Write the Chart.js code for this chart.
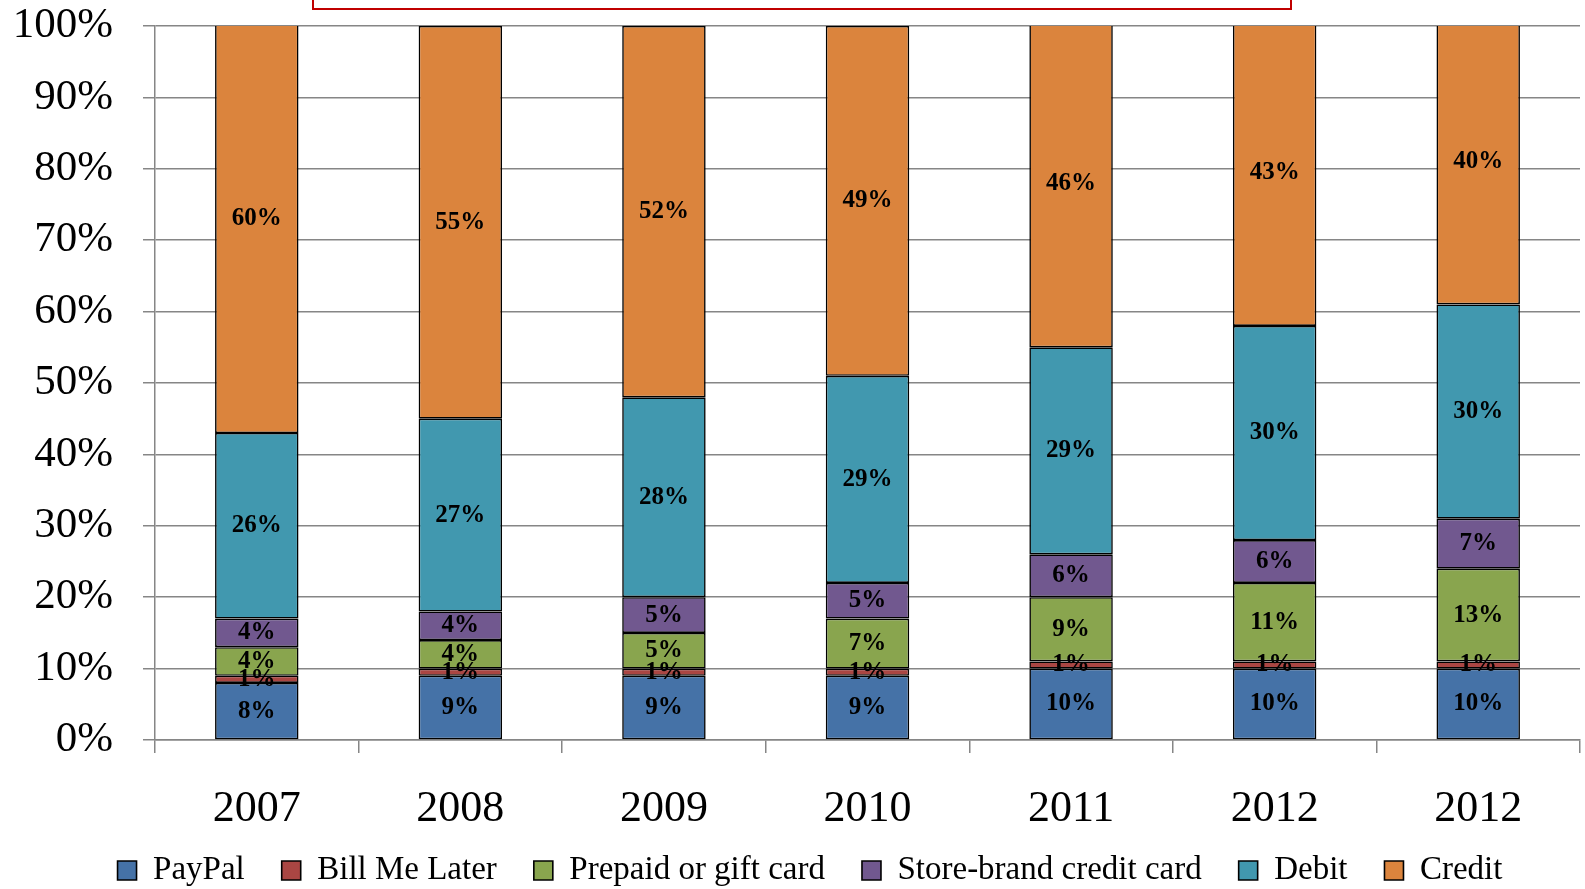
<!DOCTYPE html>
<html>
<head>
<meta charset="utf-8">
<script src="https://cdn.jsdelivr.net/npm/chart.js@4/dist/chart.umd.min.js"></script>
<style>
  body { margin: 0; background: #fff; }
  canvas { display: block; }
</style>
</head>
<body>
<canvas id="myChart" width="1585" height="889"></canvas>
<script>
// data (labels are the rounded shares shown on each segment)
const years = ['2007', '2008', '2009', '2010', '2011', '2012', '2012'];
const paypal = [8, 9, 9, 9, 10, 10, 10];
const billMeLater = [1, 1, 1, 1, 1, 1, 1];
const prepaid = [4, 4, 5, 7, 9, 11, 13];
const storeBrand = [4, 4, 5, 5, 6, 6, 7];
const debit = [26, 27, 28, 29, 29, 30, 30];
const credit = [60, 55, 52, 49, 46, 43, 40];
const yTicks = [0, 10, 20, 30, 40, 50, 60, 70, 80, 90, 100];

const serif = '"Liberation Serif", "DejaVu Serif", serif';
const gridGray = '#868686';

function series(label, data, color){
    return {
        label: label,
        data: data,
        backgroundColor: color,
        borderColor: '#000',
        borderWidth: 1.6,
        borderSkipped: false,
        barPercentage: 0.41,
        categoryPercentage: 1,
        clip: 0
    }
}

// numbers in the middle of every segment
const segmentLabels = {
    id: 'segmentLabels',
    afterDatasetsDraw(chart){
        const ctx = chart.ctx;
        ctx.save();
        ctx.font = 'bold 25px ' + serif;
        ctx.fillStyle = '#000';
        ctx.textAlign = 'center';
        ctx.textBaseline = 'middle';
        chart.data.datasets.forEach((ds, i) => {
            chart.getDatasetMeta(i).data.forEach((bar, j) => {
                const p = bar.getProps(['x', 'y', 'base'], true);
                ctx.fillText(ds.data[j] + '%', p.x, (p.y + p.base) / 2);
            });
        });
        ctx.restore();
    }
};

// red title frame (cut off at the top edge) + legend placement
const titleFrame = {
    id: 'titleFrame',
    afterLayout(chart){
        const lg = chart.legend;
        lg.top = 817;
        lg.bottom = chart.height;
        lg.height = lg.bottom - lg.top;
        lg.left += 20;
        lg.right += 20;
    },
    afterDraw(chart){
        const ctx = chart.ctx;
        ctx.save();
        ctx.strokeStyle = '#C00000';
        ctx.lineWidth = 2;
        ctx.strokeRect(313, -20, 978, 29);
        ctx.restore();
    }
};

const ctx = document.getElementById('myChart').getContext('2d');
const myChart = new Chart(ctx, {
    type: 'bar',
    data: {
        labels: years,
        datasets: [
            series('PayPal', paypal, '#4572A7'),
            series('Bill Me Later', billMeLater, '#AA4643'),
            series('Prepaid or gift card', prepaid, '#89A54E'),
            series('Store-brand credit card', storeBrand, '#71588F'),
            series('Debit', debit, '#4198AF'),
            series('Credit', credit, '#DB843D')
        ]
    },
    options: {
        responsive: false,
        animation: false,
        layout: {
            padding: {top: 26, right: 5, left: 0, bottom: 0}
        },
        plugins: {
            legend: {
                position: 'bottom',
                maxHeight: 56,
                labels: {
                    color: '#000',
                    font: {family: serif, size: 33},
                    boxWidth: 19,
                    boxHeight: 19,
                    padding: 37
                }
            },
            tooltip: {enabled: false}
        },
        scales: {
            x: {
                stacked: true,
                afterFit: (s) => { s.height = 93 },
                ticks: {
                    color: '#000',
                    font: {family: serif, size: 44},
                    padding: 30
                },
                grid: {
                    offset: true,
                    drawOnChartArea: false,
                    drawTicks: true,
                    tickLength: 13,
                    color: gridGray,
                    lineWidth: 1.5
                },
                border: {color: gridGray, width: 1.5}
            },
            y: {
                stacked: true,
                min: 0,
                max: 100,
                afterFit: (s) => {
                    s.width = 155;
                    s.paddingTop = 0;
                    s.paddingBottom = 0;
                },
                afterBuildTicks: (s) => { s.ticks = yTicks.map(v => ({value: v})) },
                ticks: {
                    color: '#000',
                    font: {family: serif, size: 43},
                    padding: 30,
                    callback: (v) => v + '%'
                },
                grid: {
                    color: gridGray,
                    lineWidth: 1.5,
                    tickLength: 12
                },
                border: {color: gridGray, width: 1.5}
            }
        }
    },
    plugins: [segmentLabels, titleFrame]
});
</script>
</body>
</html>
